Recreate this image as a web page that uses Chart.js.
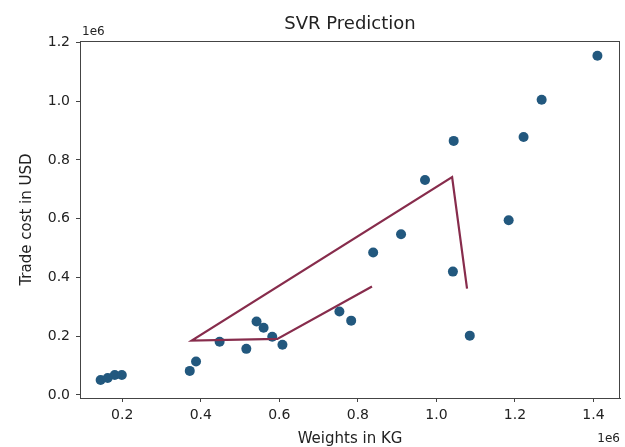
<!DOCTYPE html>
<html>
<head>
<meta charset="utf-8">
<script src="https://cdn.jsdelivr.net/npm/chart.js@4/dist/chart.umd.min.js"></script>
<style>
  html, body { margin: 0; padding: 0; background: #fff; }
  #wrap { width: 625px; height: 447px; }
</style>
</head>
<body>
<div id="wrap"><canvas id="svrChart" width="625" height="447"></canvas></div>
<script>
// observed samples (weights in kg, trade cost in USD)
const weightsKg = [145000, 163000, 181000, 199000, 372000, 388000, 448000, 516000, 542000, 560000, 582000, 608000, 753000, 783000, 839000, 910000, 971000, 1042000, 1044000, 1085000, 1184000, 1222000, 1268000, 1410000];
const tradeCostUsd = [51000, 58000, 68000, 68000, 82000, 114000, 181000, 157000, 250000, 229000, 198000, 171000, 284000, 253000, 485000, 547000, 732000, 420000, 865000, 202000, 595000, 878000, 1005000, 1155000];

// SVR prediction line, in the order it was plotted
const predWeightsKg = [836000, 595000, 377000, 1040000, 1078000];
const predCostUsd = [369000, 191000, 185000, 742000, 362000];

// tick values
const xTicks = [200000, 400000, 600000, 800000, 1000000, 1200000, 1400000];
const yTicks = [0, 200000, 400000, 600000, 800000, 1000000, 1200000];

const FONT = "'DejaVu Sans', sans-serif";
const TXT = "#222";

const toPoints = (xs, ys) => xs.map((x, i) => ({ x: x, y: ys[i] }));

// frame, title, axis labels and the 1e6 offset texts
const decorations = {
  id: "decorations",
  afterDraw(chart) {
    const { ctx, chartArea: a } = chart;
    ctx.save();
    ctx.strokeStyle = "#444";
    ctx.lineWidth = 1;
    ctx.strokeRect(a.left + 0.5, a.top + 0.5, a.right - a.left - 1, a.bottom - a.top);

    ctx.fillStyle = TXT;
    ctx.textAlign = "center";
    ctx.textBaseline = "middle";
    const cx = (a.left + a.right) / 2;

    ctx.font = "18px " + FONT;
    ctx.fillText("SVR Prediction", cx, 24);

    ctx.font = "15px " + FONT;
    ctx.fillText("Weights in KG", cx, 439);

    ctx.save();
    ctx.translate(27, (a.top + a.bottom) / 2);
    ctx.rotate(-Math.PI / 2);
    ctx.fillText("Trade cost in USD", 0, 0);
    ctx.restore();

    ctx.font = "12px " + FONT;
    ctx.textAlign = "left";
    ctx.fillText("1e6", a.left + 2, 32);
    ctx.textAlign = "right";
    ctx.fillText("1e6", a.right, 439);
    ctx.restore();
  },
};

const ctx = document.getElementById("svrChart").getContext("2d");

new Chart(ctx, {
  type: "scatter",
  data: {
    datasets: [
      {
        label: "SVR prediction",
        data: toPoints(predWeightsKg, predCostUsd),
        showLine: true,
        borderColor: "#872c4c",
        borderWidth: 2.2,
        pointRadius: 0,
        order: 0,
      },
      {
        label: "Data",
        data: toPoints(weightsKg, tradeCostUsd),
        backgroundColor: "#22587e",
        borderWidth: 0,
        pointRadius: 5,
        order: 1,
      },
    ],
  },
  options: {
    responsive: false,
    animation: false,
    layout: { padding: { left: 0, top: 41, right: 3, bottom: 0 } },
    plugins: {
      legend: { display: false },
      tooltip: { enabled: false },
    },
    scales: {
      x: {
        type: "linear",
        min: 92500,
        max: 1467500,
        afterFit: (scale) => { scale.height = 49; },
        afterBuildTicks: (scale) => { scale.ticks = xTicks.map((v) => ({ value: v })); },
        border: { display: true, color: "#444", width: 1 },
        grid: { drawOnChartArea: false, drawTicks: true, tickLength: 4, color: "#444" },
        ticks: {
          color: TXT,
          font: { family: FONT, size: 14 },
          padding: 5,
          maxRotation: 0,
          callback: (v) => (v / 1e6).toFixed(1),
        },
      },
      y: {
        type: "linear",
        min: -10300,
        max: 1205000,
        afterFit: (scale) => { scale.width = 80; },
        afterBuildTicks: (scale) => { scale.ticks = yTicks.map((v) => ({ value: v })); },
        border: { display: true, color: "#444", width: 1 },
        grid: { drawOnChartArea: false, drawTicks: true, tickLength: 4, color: "#444" },
        ticks: {
          color: TXT,
          font: { family: FONT, size: 14 },
          padding: 6,
          callback: (v) => (v / 1e6).toFixed(1),
        },
      },
    },
  },
  plugins: [decorations],
});
</script>
</body>
</html>
